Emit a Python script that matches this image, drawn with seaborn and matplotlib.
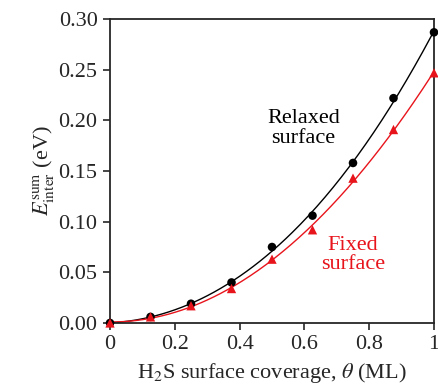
import matplotlib
matplotlib.use("Agg")
import matplotlib.pyplot as plt
import numpy as np
import pandas as pd
import seaborn as sns

# coverage (ML) and interaction energies (eV)
coverage = [0.0, 0.125, 0.25, 0.375, 0.5, 0.625, 0.75, 0.875, 1.0]
relaxed = [0.0, 0.006, 0.019, 0.040, 0.075, 0.106, 0.158, 0.222, 0.287]
fixed = [0.0, 0.006, 0.017, 0.034, 0.063, 0.092, 0.143, 0.191, 0.247]

x_ticks = [0, 0.2, 0.4, 0.6, 0.8, 1.0]
x_tick_labels = ["0", "0.2", "0.4", "0.6", "0.8", "1"]
y_ticks = [0.0, 0.05, 0.10, 0.15, 0.20, 0.25, 0.30]

sns.set_style("ticks")
plt.rcParams['font.family'] = ['Liberation Serif', 'DejaVu Serif']
plt.rcParams['mathtext.fontset'] = 'stix'

df = pd.DataFrame({'theta': coverage, 'relaxed': relaxed, 'fixed': fixed})

# smooth fit curves through the points
grid = np.linspace(0, 1, 200)
fits = pd.DataFrame({'theta': grid})
for col in ['relaxed', 'fixed']:
    p = np.polyfit(df['theta'], df[col], 3)
    fits[col] = np.polyval(p, grid)

fig = plt.figure(figsize=(4.39, 3.91), dpi=100)
ax = fig.add_axes([0.2506, 0.174, 0.738, 0.777])

sns.lineplot(data=fits, x='theta', y='relaxed', color='black', lw=1.0, ax=ax)
sns.lineplot(data=fits, x='theta', y='fixed', color='#e8141c', lw=1.0, ax=ax)
sns.scatterplot(data=df, x='theta', y='relaxed', color='black', marker='o',
                s=38, edgecolor='none', ax=ax, clip_on=False, zorder=3)
sns.scatterplot(data=df, x='theta', y='fixed', color='#e8141c', marker='^',
                s=45, edgecolor='none', ax=ax, clip_on=False, zorder=4)

ax.text(0.597, 0.192, "Relaxed\nsurface", ha='center', va='center',
        fontsize=16, linespacing=1.05, color='black')
ax.text(0.75, 0.067, "Fixed\nsurface", ha='center', va='center',
        fontsize=16, linespacing=1.05, color='#e8141c')

ax.set_xlim(0, 1)
ax.set_ylim(0, 0.30)
ax.set_xticks(x_ticks)
ax.set_xticklabels(x_tick_labels)
ax.set_yticks(y_ticks)
ax.set_yticklabels([f"{v:.2f}" for v in y_ticks])
ax.tick_params(direction='out', length=5, width=1.2, labelsize=16, pad=4)
for s in ax.spines.values():
    s.set_linewidth(1.3)

ax.set_xlabel(r"H$_2$S surface coverage, $\theta$ (ML)", fontsize=16, labelpad=5)
ax.set_ylabel(r"$E_{\mathrm{inter}}^{\mathrm{sum}}$ (eV)", fontsize=16, labelpad=2)

fig.savefig("out.png", dpi=100)
